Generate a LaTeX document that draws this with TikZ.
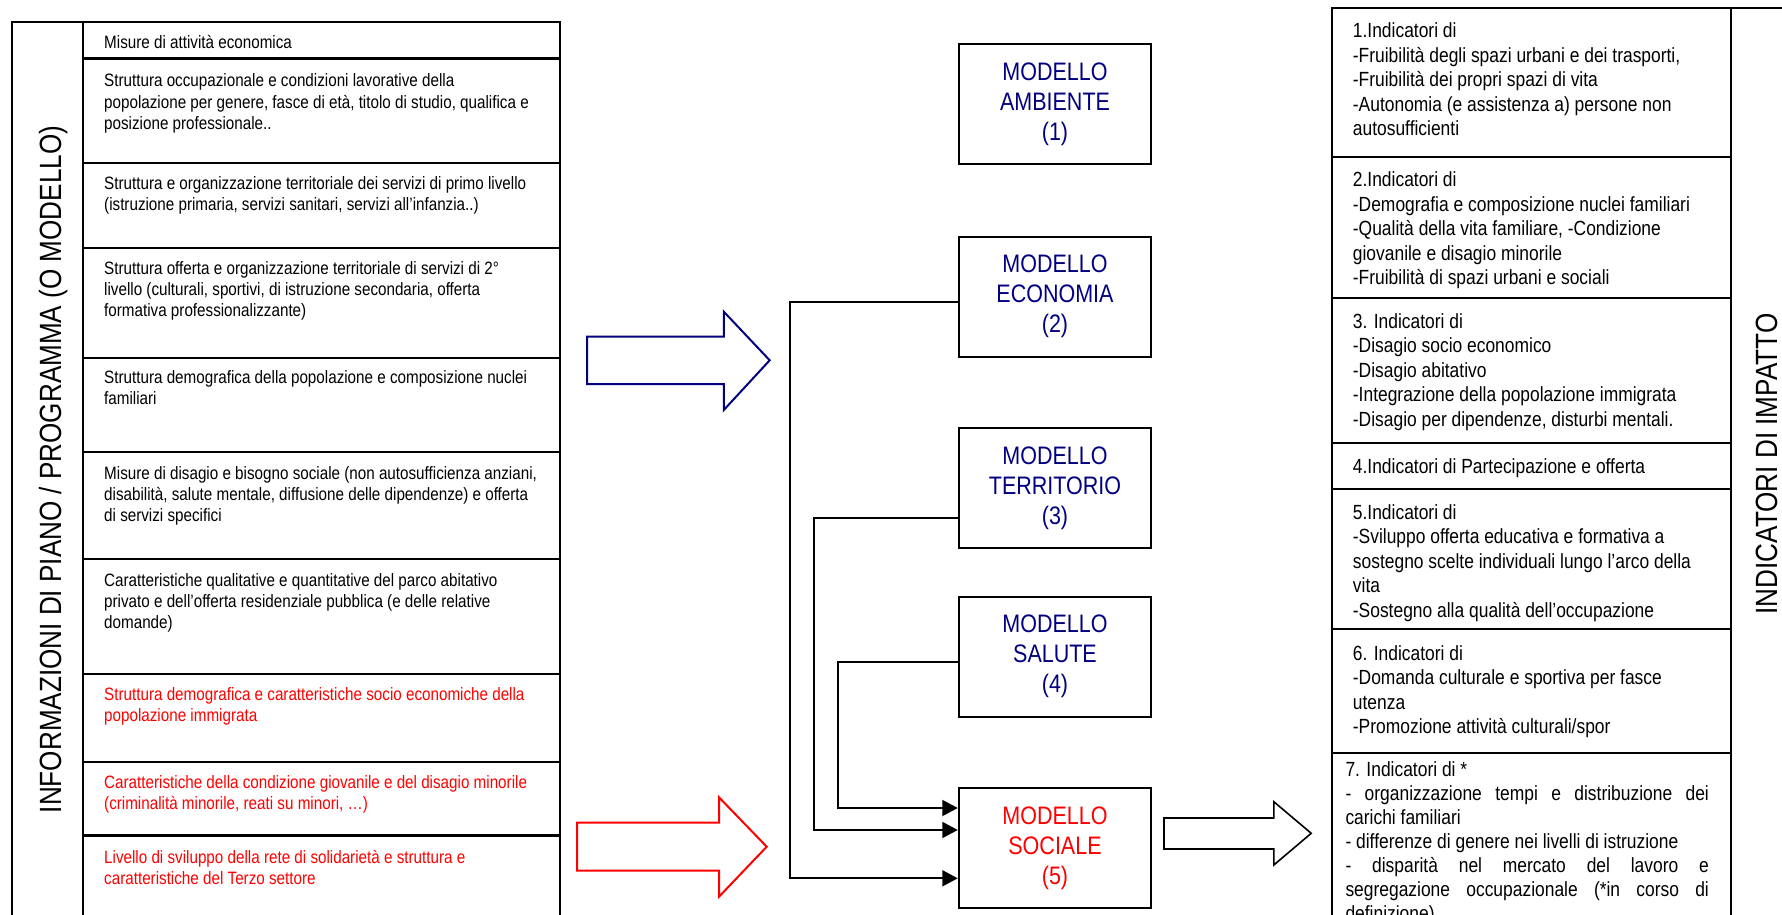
\documentclass[tikz,border=0pt]{standalone}
\usepackage{fontspec}
\setmainfont{Liberation Sans}[FakeStretch=0.85]
\usetikzlibrary{arrows.meta}
\definecolor{navyb}{RGB}{0,0,128}
\definecolor{redt}{RGB}{255,0,0}
\newcommand\ltxt[1]{\begin{minipage}[t]{470pt}\fontsize{17.9}{21.2}\selectfont #1\end{minipage}}
\newcommand\rtxt[2][24.5]{\begin{minipage}[t]{390pt}\fontsize{20.5}{#1}\selectfont #2\end{minipage}}
\newcommand\jline[1]{\makebox[363.4pt][s]{#1}}
\begin{document}
\begin{tikzpicture}[x=1pt,y=-1pt,line join=miter,
  tbl/.style={line width=2pt},
  thk/.style={line width=3pt},
  lt/.style={anchor=base west,inner sep=0pt},
  mbox/.style={draw,line width=2pt,minimum width=192.5pt,minimum height=120pt,
    align=center,inner sep=0pt,font=\fontsize{25.3}{30}\selectfont,text=navyb},
  conn/.style={line width=2pt,-{Triangle[length=15.5pt,width=16pt]}},
  vlab/.style={rotate=90,anchor=base,inner sep=0pt,font=\fontsize{30.7}{36}\selectfont}]
\useasboundingbox (0,0) rectangle (1782,915);
\clip (0,0) rectangle (1782,915);
\fill[white] (0,0) rectangle (1782,915);

% ---------- left table ----------
\draw[tbl] (11.7,22) rectangle (560,940);
\draw[tbl] (83.3,22) -- (83.3,940);
\foreach \yy in {162.7,247.7,357.7,451.7,559.3,674,761.7}
  \draw[tbl] (83.3,\yy) -- (560,\yy);
\draw[thk] (83.3,59) -- (560,59);
\draw[thk] (83.3,835.7) -- (560,835.7);
\node[vlab] (lbl) at (61,469.5) {INFORMAZIONI DI PIANO / PROGRAMMA (O MODELLO)};

\node[lt] (l1) at (104,49) {\ltxt{Misure di attività economica}};
\node[lt] (l2) at (104,87) {\ltxt{Struttura occupazionale e condizioni lavorative della\\popolazione per genere, fasce di età, titolo di studio, qualifica e\\posizione professionale..}};
\node[lt] (l3) at (104,189) {\ltxt{Struttura e organizzazione territoriale dei servizi di primo livello\\(istruzione primaria, servizi sanitari, servizi all’infanzia..)}};
\node[lt] (l4) at (104,274) {\ltxt{Struttura offerta e organizzazione territoriale di servizi di 2°\\livello (culturali, sportivi, di istruzione secondaria, offerta\\formativa professionalizzante)}};
\node[lt] (l5) at (104,383) {\ltxt{Struttura demografica della popolazione e composizione nuclei\\familiari}};
\node[lt] (l6) at (104,479.5) {\ltxt{Misure di disagio e bisogno sociale (non autosufficienza anziani,\\disabilità, salute mentale, diffusione delle dipendenze) e offerta\\di servizi specifici}};
\node[lt] (l7) at (104,586) {\ltxt{Caratteristiche qualitative e quantitative del parco abitativo\\privato e dell’offerta residenziale pubblica (e delle relative\\domande)}};
\node[lt,text=redt] (l8) at (104,700.5) {\ltxt{Struttura demografica e caratteristiche socio economiche della\\popolazione immigrata}};
\node[lt,text=redt] (l9) at (104,788) {\ltxt{Caratteristiche della condizione giovanile e del disagio minorile\\(criminalità minorile, reati su minori, …)}};
\node[lt,text=redt] (l10) at (104,863) {\ltxt{Livello di sviluppo della rete di solidarietà e struttura e\\caratteristiche del Terzo settore}};

% ---------- block arrows ----------
\draw[navyb,line width=2pt] (587,336.7) -- (723.8,336.7) -- (723.8,311.7) -- (769.7,360.3)
  -- (723.8,410) -- (723.8,384) -- (587,384) -- cycle;
\draw[redt,line width=2pt] (577,822.7) -- (719,822.7) -- (719,797.3) -- (766.7,846.7)
  -- (719,896.7) -- (719,870.7) -- (577,870.7) -- cycle;
\draw[line width=1.6pt] (1164,818) -- (1273.8,818) -- (1273.8,801.7) -- (1311.2,833.3)
  -- (1273.8,865) -- (1273.8,849) -- (1164,849) -- cycle;

% ---------- model boxes ----------
\node[mbox] (b1) at (1055,104) {MODELLO\\AMBIENTE\\(1)};
\node[mbox] (b2) at (1055,296.5) {MODELLO\\ECONOMIA\\(2)};
\node[mbox] (b3) at (1055,488) {MODELLO\\TERRITORIO\\(3)};
\node[mbox] (b4) at (1055,656.5) {MODELLO\\SALUTE\\(4)};
\node[mbox,text=redt] (b5) at (1055,848) {MODELLO\\SOCIALE\\(5)};

\draw[conn] ([yshift=-5.8pt]b2.west) -- ++(-168,0) |- ([yshift=-30.3pt]b5.west);
\draw[conn] ([yshift=-30pt]b3.west) -- ++(-143.8,0) |- ([yshift=18pt]b5.west);
\draw[conn] ([yshift=-5.8pt]b4.west) -- ++(-119.8,0) |- ([yshift=40pt]b5.west);

% ---------- right table ----------
\draw[tbl] (1332,8.3) rectangle (1800,940);
\draw[tbl] (1731,8.3) -- (1731,940);
\foreach \yy in {157.3,298.3,443.3,489,629.3,752.7}
  \draw[tbl] (1332,\yy) -- (1731,\yy);
\node[vlab] (rlab) at (1777,464) {INDICATORI DI IMPATTO};

\node[lt] (r1) at (1352.7,38) {\rtxt{1.Indicatori di\\-Fruibilità degli spazi urbani e dei trasporti,\\-Fruibilità dei propri spazi di vita\\-Autonomia (e assistenza a) persone non\\autosufficienti}};
\node[lt] (r2) at (1352.7,186.5) {\rtxt{2.Indicatori di\\-Demografia e composizione nuclei familiari\\-Qualità della vita familiare, -Condizione\\giovanile e disagio minorile\\-Fruibilità di spazi urbani e sociali}};
\node[lt] (r3) at (1352.7,328) {\rtxt{3. Indicatori di\\-Disagio socio economico\\-Disagio abitativo\\-Integrazione della popolazione immigrata\\-Disagio per dipendenze, disturbi mentali.}};
\node[lt] (r4) at (1352.7,473) {\rtxt{4.Indicatori di Partecipazione e offerta}};
\node[lt] (r5) at (1352.7,519) {\rtxt{5.Indicatori di\\-Sviluppo offerta educativa e formativa a\\sostegno scelte individuali lungo l’arco della\\vita\\-Sostegno alla qualità dell’occupazione}};
\node[lt] (r6) at (1352.7,660) {\rtxt{6. Indicatori di\\-Domanda culturale e sportiva per fasce\\utenza\\-Promozione attività culturali/spor}};
\node[lt] (r7) at (1345.3,776.5) {\rtxt[24]{7. Indicatori di *\\\jline{- organizzazione tempi e distribuzione dei}\\carichi familiari\\- differenze di genere nei livelli di istruzione\\\jline{- disparità nel mercato del lavoro e}\\\jline{segregazione occupazionale (*in corso di}\\definizione)}};
\end{tikzpicture}
\end{document}
